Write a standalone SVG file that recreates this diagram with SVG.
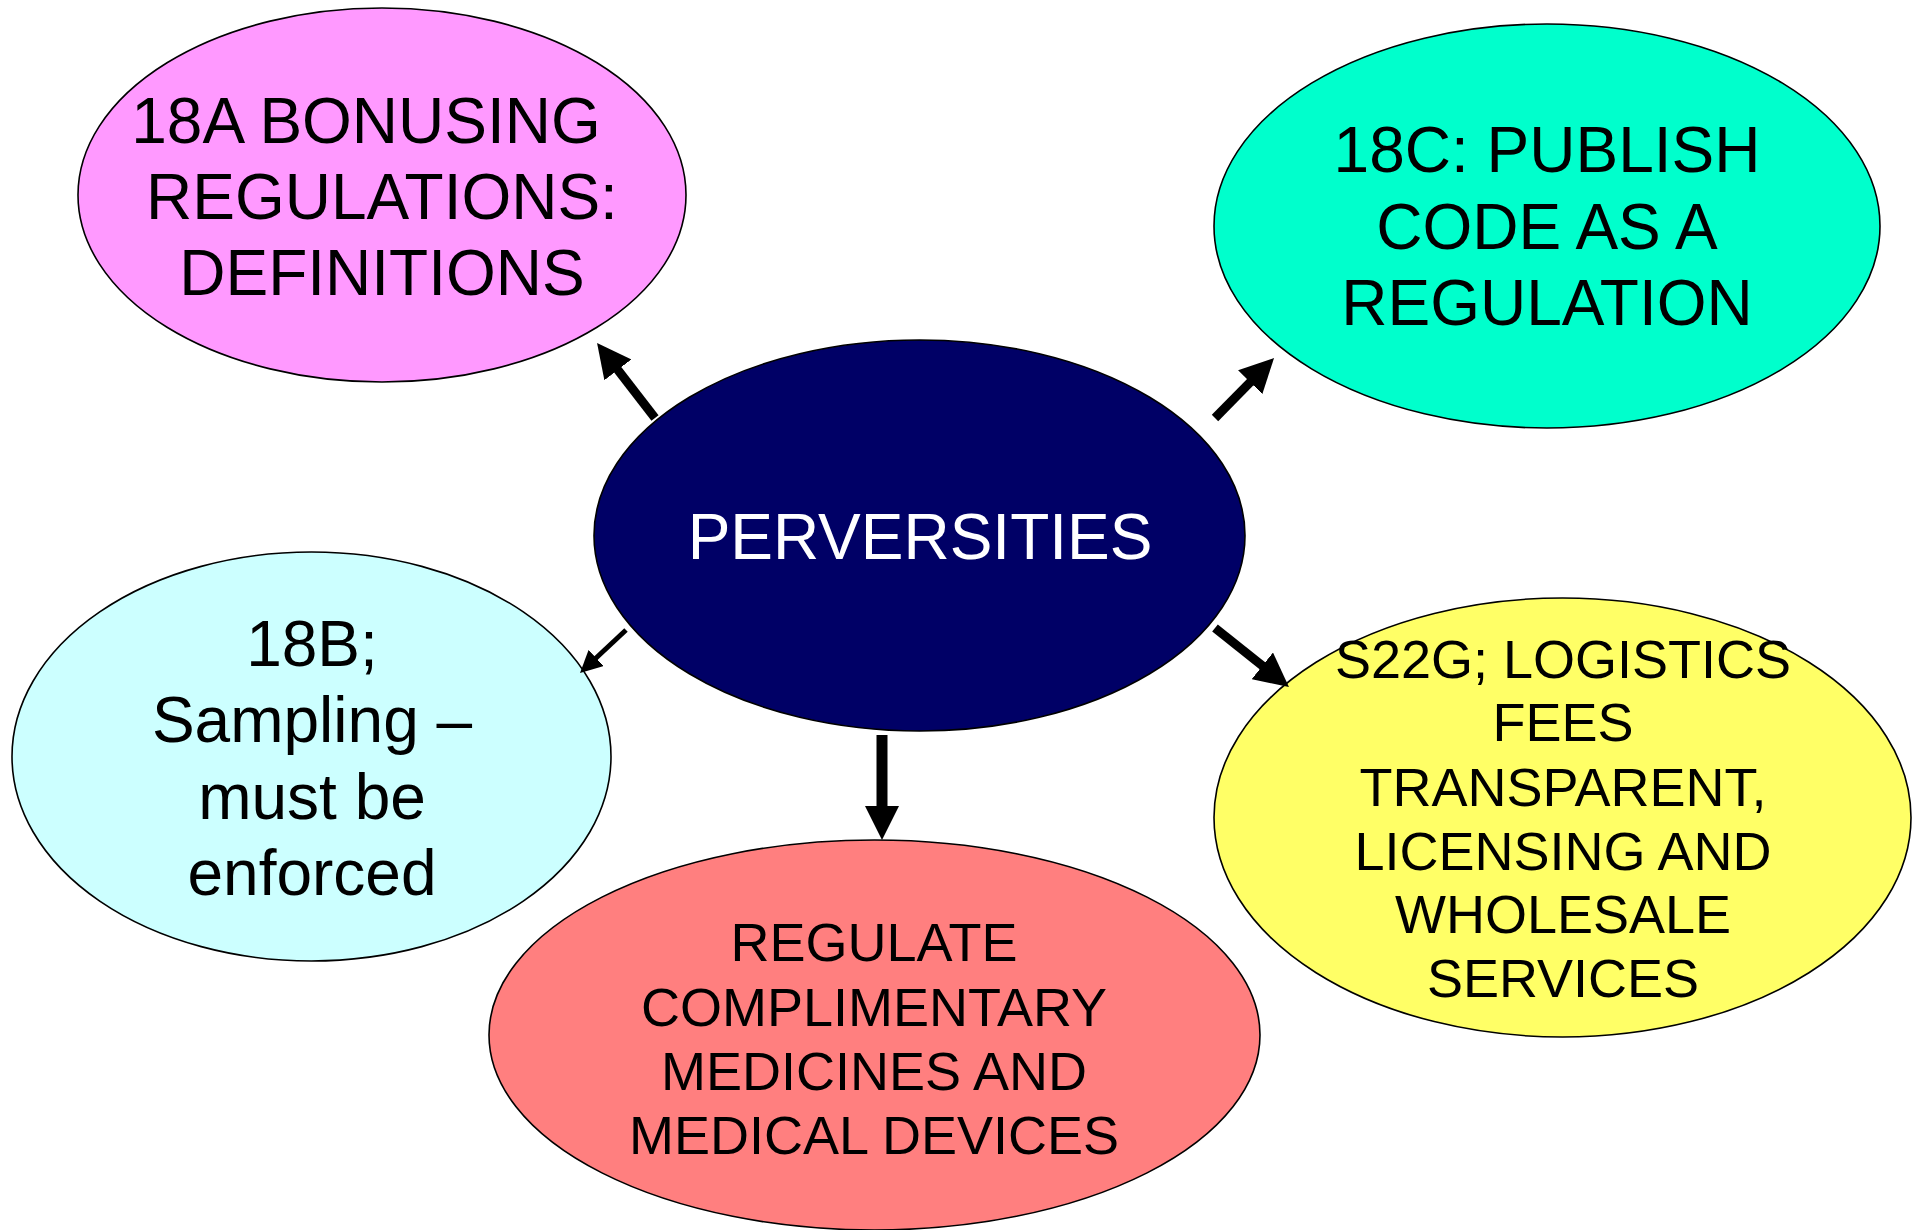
<svg xmlns="http://www.w3.org/2000/svg" width="1921" height="1230" viewBox="0 0 1921 1230">
<style>
.node ellipse{stroke:#000;stroke-width:1.6}
.node text{font-family:"Liberation Sans",Arial,sans-serif;text-anchor:middle;fill:#000}
.big{font-size:64px}
.small{font-size:54px}
.conn{stroke:#000;fill:none;stroke-linecap:butt}
</style>
<defs>
<marker id="headL" markerUnits="userSpaceOnUse" markerWidth="34" markerHeight="34" refX="4" refY="17" orient="auto" viewBox="0 0 34 34">
<path d="M0,0 L34,17 L0,34 Z" fill="#000"/>
</marker>
<marker id="headS" markerUnits="userSpaceOnUse" markerWidth="22" markerHeight="22" refX="3" refY="11" orient="auto" viewBox="0 0 22 22">
<path d="M0,0 L22,11 L0,22 Z" fill="#000"/>
</marker>
</defs>
<rect width="1921" height="1230" fill="#fff"/>
<g id="node-18a" class="node">
<ellipse cx="382" cy="195" rx="304" ry="187" fill="#FF99FF"/>
<text class="big" x="366" y="143">18A BONUSING</text>
<text class="big" x="382" y="219">REGULATIONS:</text>
<text class="big" x="382" y="295">DEFINITIONS</text>
</g>
<g id="node-18c" class="node">
<ellipse cx="1547" cy="226" rx="333" ry="202" fill="#00FFCC"/>
<text class="big" x="1547" y="172">18C: PUBLISH</text>
<text class="big" x="1547" y="249">CODE AS A</text>
<text class="big" x="1547" y="325">REGULATION</text>
</g>
<g id="node-18b" class="node">
<ellipse cx="311.5" cy="756.5" rx="299.5" ry="204.5" fill="#CCFFFF"/>
<text class="big" x="312" y="666">18B;</text>
<text class="big" x="312" y="742">Sampling –</text>
<text class="big" x="312" y="819">must be</text>
<text class="big" x="312" y="895">enforced</text>
</g>
<g id="node-regulate" class="node">
<ellipse cx="874.5" cy="1035" rx="385.5" ry="195" fill="#FF7F7F"/>
<text class="small" x="874" y="961">REGULATE</text>
<text class="small" x="874" y="1026">COMPLIMENTARY</text>
<text class="small" x="874" y="1090">MEDICINES AND</text>
<text class="small" x="874" y="1154">MEDICAL DEVICES</text>
</g>
<g id="node-s22g" class="node">
<ellipse cx="1562.5" cy="817.5" rx="348.5" ry="219.5" fill="#FFFF66"/>
<text class="small" x="1563" y="678">S22G; LOGISTICS</text>
<text class="small" x="1563" y="741">FEES</text>
<text class="small" x="1563" y="806">TRANSPARENT,</text>
<text class="small" x="1563" y="870">LICENSING AND</text>
<text class="small" x="1563" y="933">WHOLESALE</text>
<text class="small" x="1563" y="997">SERVICES</text>
</g>
<g id="node-perversities" class="node">
<ellipse cx="919.5" cy="535.5" rx="325.5" ry="195.5" fill="#000066"/>
<text class="big" x="920" y="559" style="fill:#fff">PERVERSITIES</text>
</g>
<g id="connectors">
<path class="conn" d="M655,418 L615.4,366.7" stroke-width="9" marker-end="url(#headL)"/>
<path class="conn" d="M1215,418 L1253,379.4" stroke-width="9" marker-end="url(#headL)"/>
<path class="conn" d="M626,630 L593.9,660" stroke-width="5" marker-end="url(#headS)"/>
<path class="conn" d="M882,735 L882,810" stroke-width="11" marker-end="url(#headL)"/>
<path class="conn" d="M1215,628 L1265.5,668.3" stroke-width="9" marker-end="url(#headL)"/>
</g>
</svg>
